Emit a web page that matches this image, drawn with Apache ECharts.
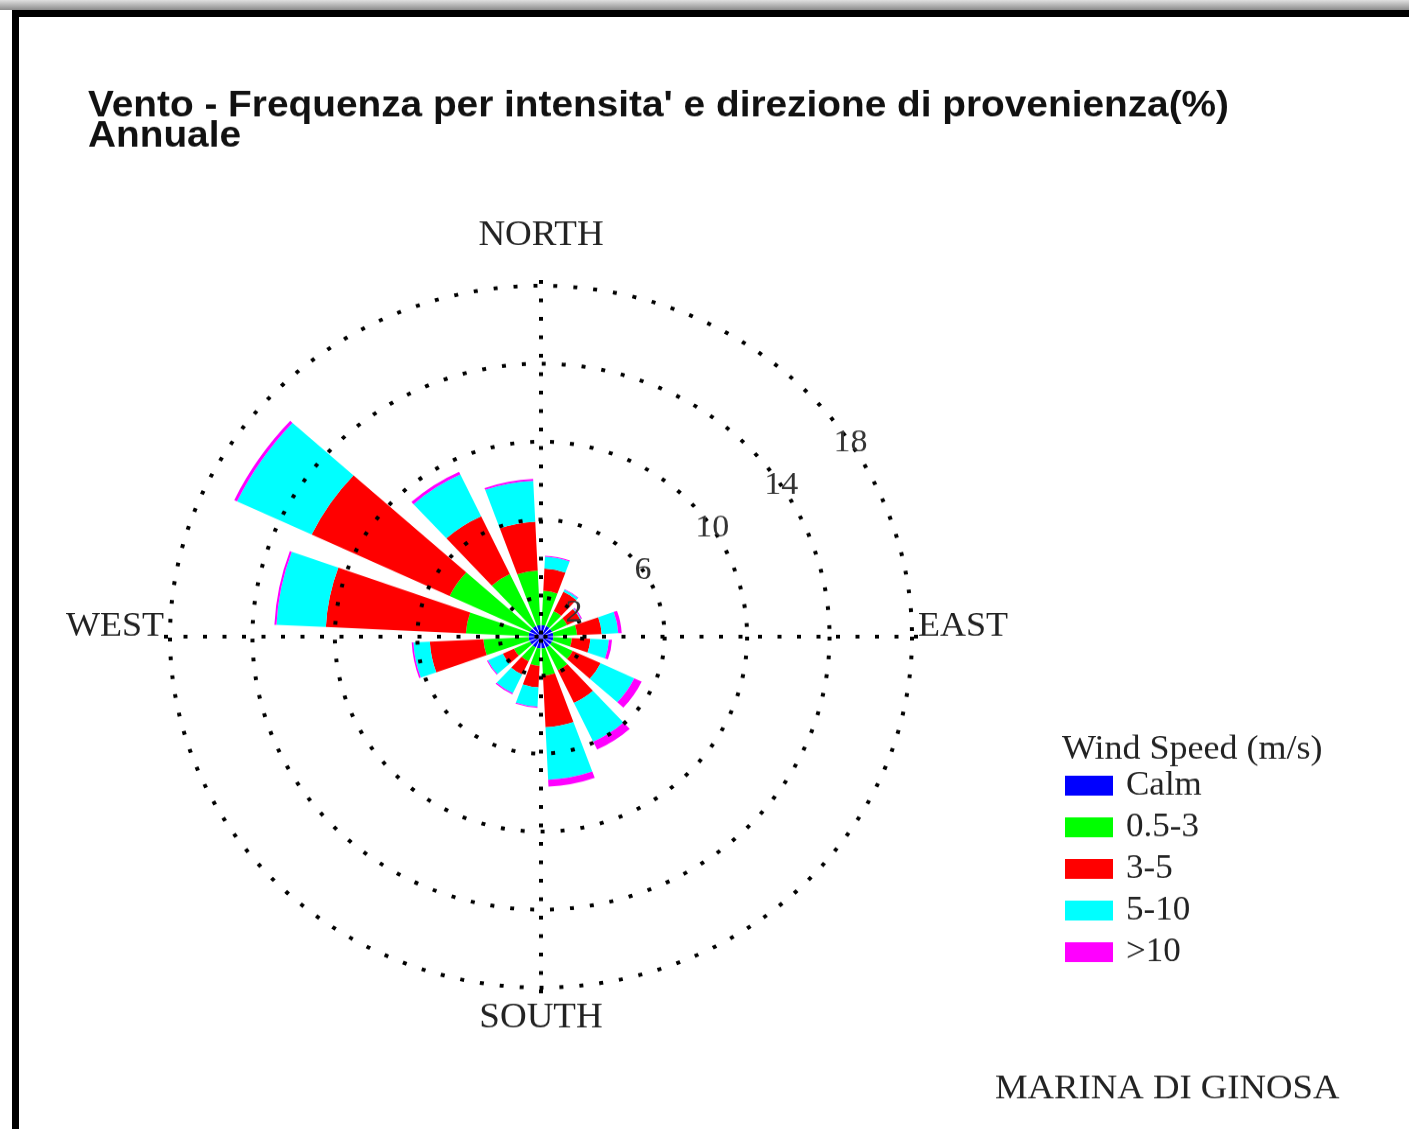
<!DOCTYPE html>
<html>
<head>
<meta charset="utf-8">
<title>Vento - Marina di Ginosa</title>
<script src="https://cdn.jsdelivr.net/npm/echarts@6/dist/echarts.min.js"></script>
<style>
  html, body { margin: 0; padding: 0; background: #fff; width: 1409px; height: 1129px; overflow: hidden; }
  #shade { position: absolute; left: 0; top: 0; width: 1409px; height: 10px; background: linear-gradient(#e0e0e0, #8c8c8c); }
  #frame { position: absolute; left: 12px; top: 10px; width: 1397px; height: 1119px; border-left: 7px solid #000; border-top: 7px solid #000; box-sizing: border-box; }
  /* the original picture is a little squashed vertically, so the chart is drawn taller and scaled down */
  #main { position: absolute; left: 0; top: 0; width: 1409px; height: 1193px; transform: scaleY(0.946); transform-origin: 0 0; }
</style>
</head>
<body>
<div id="shade"></div>
<div id="frame"></div>
<div id="main"></div>
<script>
// 16 sectors, clockwise, values in %
const directions = ['N', 'NNE', 'NE', 'ENE', 'E', 'ESE', 'SE', 'SSE', 'S', 'SSW', 'SW', 'WSW', 'W', 'WNW', 'NW', 'NNW'];
const calm = [0.6, 0.6, 0.6, 0.6, 0.6, 0.6, 0.6, 0.6, 0.6, 0.6, 0.6, 0.6, 0.6, 0.6, 0.6, 0.6];
const speed05to3 = [2.8, 1.75, 0.85, 0.8, 1.15, 0.9, 1.1, 1.3, 1.4, 0.9, 0.8, 0.85, 2.2, 3.05, 4.3, 2.95];
const speed3to5 = [2.5, 1.15, 1.1, 0.7, 1.2, 0.9, 1.5, 1.85, 2.65, 1.1, 0.75, 0.6, 2.6, 6.8, 7.4, 3.27];
const speed5to10 = [2.1, 0.6, 0.12, 0.05, 0.8, 0.9, 1.8, 2.2, 2.7, 1.0, 1.05, 0.8, 0.8, 2.4, 4.0, 2.37];
const speedOver10 = [0.1, 0.05, 0.03, 0.05, 0.17, 0.15, 0.4, 0.45, 0.35, 0.05, 0.07, 0.05, 0.08, 0.1, 0.15, 0.15];

const speedClasses = ['Calm', '0.5-3', '3-5', '5-10', '>10'];
const compassLabels = ['NORTH', 'EAST', 'SOUTH', 'WEST'];
const ringMin = 2;
const ringMax = 18;
const ringStep = 4;

const colors = ['#0000ff', '#00ff00', '#ff0000', '#00ffff', '#ff00ff'];
const serif = '"Liberation Serif", "Times New Roman", serif';
const CX = 541, CY = 673, R = 371;

const chart = echarts.init(document.getElementById('main'));

const seriesData = [calm, speed05to3, speed3to5, speed5to10, speedOver10];

const dots = { color: '#000', width: 4, type: [4, 16], cap: 'butt' };

const option = {
  animation: false,
  color: colors,
  title: [
    {
      text: "Vento - Frequenza per intensita' e direzione di provenienza(%)\nAnnuale",
      left: 83,
      top: 91,
      textStyle: { fontFamily: '"Liberation Sans", Arial, sans-serif', fontWeight: 'bold', fontSize: 38.8, lineHeight: 32, color: '#111' }
    },
    {
      text: 'Wind Speed (m/s)',
      left: 1057,
      top: 770,
      textStyle: { fontFamily: serif, fontWeight: 'normal', fontSize: 36, color: '#222' }
    },
    {
      text: 'MARINA DI GINOSA',
      left: 990,
      top: 1128,
      textStyle: { fontFamily: serif, fontWeight: 'normal', fontSize: 36.7, color: '#222' }
    }
  ],
  legend: {
    data: speedClasses,
    orient: 'vertical',
    left: 1060,
    top: 808,
    itemWidth: 48,
    itemHeight: 21,
    itemGap: 9,
    icon: 'rect',
    textStyle: { fontFamily: serif, fontSize: 35, color: '#222', padding: [0, 0, 0, 8] }
  },
  polar: [
    { center: [CX, CY], radius: R },
    { center: [CX, CY], radius: [R * ringMin / ringMax, R] },
    { center: [CX, CY], radius: R + 6 }
  ],
  angleAxis: [
    {
      polarIndex: 0, type: 'category', data: directions,
      startAngle: 112.5, boundaryGap: true,
      axisLine: { show: false }, axisTick: { show: false }, axisLabel: { show: false }, splitLine: { show: false }
    },
    {
      polarIndex: 1, type: 'value', min: 0, max: 360, startAngle: 33,
      axisLine: { show: false }, axisTick: { show: false }, axisLabel: { show: false }, splitLine: { show: false }
    },
    {
      polarIndex: 2, type: 'category', data: compassLabels,
      startAngle: 90, boundaryGap: false, z: 5,
      axisLine: { show: false }, axisTick: { show: false },
      splitLine: { show: true, lineStyle: { color: '#000', width: 4, type: [4, 15.5], cap: 'butt' } },
      axisLabel: {
        margin: 0,
        formatter: v => '{' + v + '|' + v + '}',
        rich: {
          NORTH: { fontFamily: serif, fontSize: 37, color: '#222', padding: [0, 0, 28, 0] },
          SOUTH: { fontFamily: serif, fontSize: 37, color: '#222', padding: [8, 0, 0, 0] },
          EAST: { fontFamily: serif, fontSize: 36, color: '#222', padding: [0, 0, 20, 0] },
          WEST: { fontFamily: serif, fontSize: 36, color: '#222', padding: [0, 0, 20, 0] }
        }
      }
    }
  ],
  radiusAxis: [
    { polarIndex: 0, type: 'value', min: 0, max: ringMax, show: false },
    {
      polarIndex: 1, type: 'value', min: ringMin, max: ringMax, interval: ringStep, z: 5,
      axisLine: { show: false }, axisTick: { show: false },
      splitLine: { show: true, lineStyle: dots },
      axisLabel: { margin: 3, align: 'center', verticalAlign: 'middle', fontFamily: serif, fontSize: 34, color: '#333' }
    },
    { polarIndex: 2, type: 'value', min: 0, max: 1, show: false }
  ],
  series: speedClasses.map((name, i) => ({
    name: name,
    type: 'bar',
    coordinateSystem: 'polar',
    polarIndex: 0,
    stack: 'wind',
    barCategoryGap: '24%',
    itemStyle: { color: colors[i] },
    data: seriesData[i]
  }))
};

chart.setOption(option);
</script>
</body>
</html>
